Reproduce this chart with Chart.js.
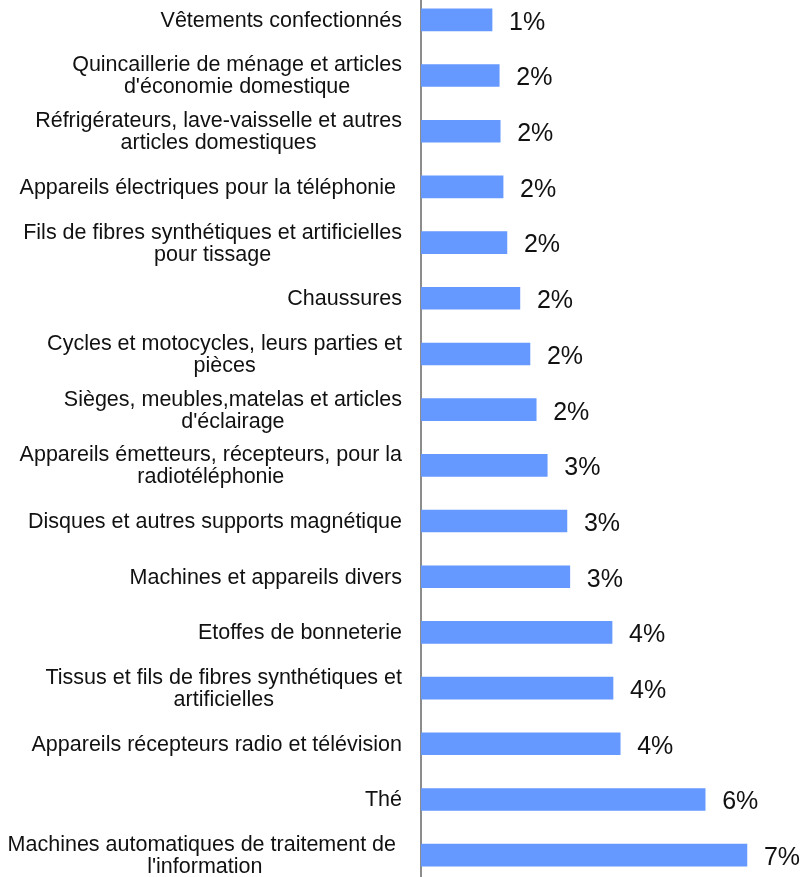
<!DOCTYPE html>
<html>
<head>
<meta charset="utf-8">
<script src="https://cdn.jsdelivr.net/npm/chart.js@4"></script>
<style>
  html, body { margin: 0; padding: 0; background: #ffffff; }
  #wrap { position: relative; width: 805px; height: 877px; overflow: hidden; }
  #chart { position: absolute; left: 0; top: -8px; }
</style>
</head>
<body>
<div id="wrap"><canvas id="chart" width="805" height="891"></canvas></div>
<script>
// Product categories (top to bottom), split over lines as in the source
const categories = [
  ['Vêtements confectionnés'],
  ['Quincaillerie de ménage et articles', "d'économie domestique"],
  ['Réfrigérateurs, lave-vaisselle et autres', 'articles domestiques'],
  ['Appareils électriques pour la téléphonie '],
  ['Fils de fibres synthétiques et artificielles', 'pour tissage'],
  ['Chaussures'],
  ['Cycles et motocycles, leurs parties et', 'pièces'],
  ['Sièges, meubles,matelas et articles', "d'éclairage"],
  ['Appareils émetteurs, récepteurs, pour la', 'radiotéléphonie'],
  ['Disques et autres supports magnétique'],
  ['Machines et appareils divers'],
  ['Etoffes de bonneterie'],
  ['Tissus et fils de fibres synthétiques et', 'artificielles'],
  ['Appareils récepteurs radio et télévision'],
  ['Thé'],
  ['Machines automatiques de traitement de ', "l'information"]
];

// Share of imports (%)
const shares = [1.48, 1.63, 1.65, 1.71, 1.79, 2.06, 2.27, 2.40, 2.63, 3.04, 3.10, 3.98, 4.00, 4.15, 5.92, 6.79];

const axisMax = 8;

const BAR_COLOR = '#6699ff';
const LABEL_FONT = '21.5px "Liberation Sans", Arial, sans-serif';
const VALUE_FONT = '25px "Liberation Sans", Arial, sans-serif';

/**
 * Draws the category labels (centred block, right edge fixed) and the value labels
 */
const labelPlugin = {
  id: 'labelPlugin',
  afterDatasetsDraw(chart) {
    const ctx = chart.ctx;
    const yScale = chart.scales.y;
    const meta = chart.getDatasetMeta(0);
    const rightEdge = 402;
    const lineH = 22;

    ctx.save();
    ctx.fillStyle = '#111111';
    ctx.textBaseline = 'middle';

    // Category labels
    ctx.font = LABEL_FONT;
    ctx.textAlign = 'center';
    categories.forEach((lines, i) => {
      const y = yScale.getPixelForValue(i) + 1;
      const maxW = Math.max(...lines.map(l => ctx.measureText(l).width));
      const cx = rightEdge - maxW / 2;
      lines.forEach((line, j) => {
        ctx.fillText(line, cx, y + (j - (lines.length - 1) / 2) * lineH);
      });
    });

    // Value labels
    ctx.font = VALUE_FONT;
    ctx.textAlign = 'left';
    meta.data.forEach((bar, i) => {
      ctx.fillText(Math.round(shares[i]) + '%', bar.x + 17, bar.y + 3);
    });
    ctx.restore();
  }
};

const ctx = document.getElementById('chart').getContext('2d');
new Chart(ctx, {
  type: 'bar',
  data: {
    labels: categories,
    datasets: [{
      data: shares,
      backgroundColor: BAR_COLOR,
      borderWidth: 0,
      barThickness: 22
    }]
  },
  options: {
    indexAxis: 'y',
    responsive: false,
    devicePixelRatio: 1,
    animation: false,
    layout: { padding: 0 },
    scales: {
      x: {
        display: false,
        min: 0,
        max: axisMax
      },
      y: {
        ticks: { display: false },
        grid: { display: false },
        border: { display: true, color: '#8c8c8c', width: 2 },
        afterFit: (scale) => { scale.width = 421; }
      }
    },
    plugins: {
      legend: { display: false },
      tooltip: { enabled: false }
    }
  },
  plugins: [labelPlugin]
});
</script>
</body>
</html>
